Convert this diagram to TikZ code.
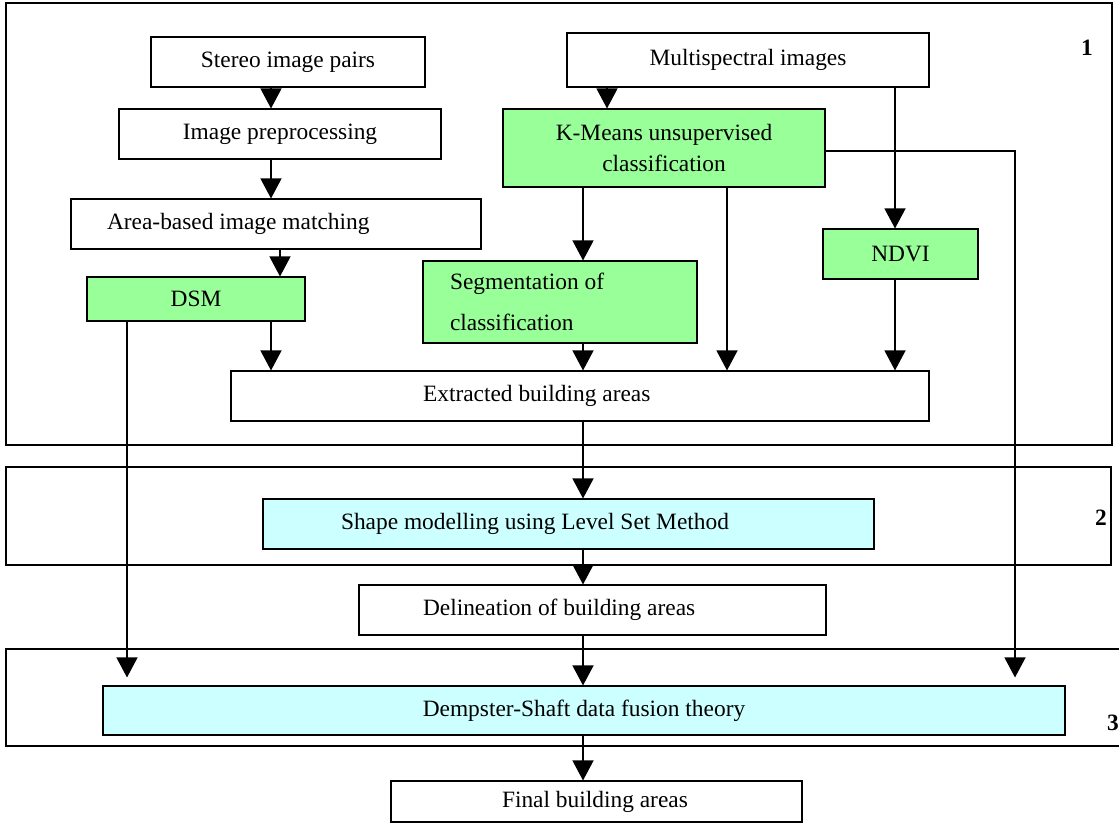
\documentclass[tikz,border=0pt]{standalone}
\usepackage{fontspec}
\setmainfont{Liberation Serif}
\usetikzlibrary{arrows.meta,positioning}
\definecolor{stepgreen}{HTML}{99FF99}
\definecolor{stepcyan}{HTML}{CCFFFF}
\begin{document}
\begin{tikzpicture}[x=1pt,y=-1pt]
\tikzset{box/.style={draw,line width=1.1pt,inner sep=0pt,align=center,font=\fontsize{23.4}{28}\selectfont}}
\tikzset{greenbox/.style={box,fill=stepgreen}}
\tikzset{cyanbox/.style={box,fill=stepcyan}}
\tikzset{leftbox/.style 2 args={box,align=flush left,inner xsep=#1,text width=#2,
  execute at begin node={\spaceskip=0pt\xspaceskip=0pt}}}
\tikzset{stage/.style={draw,line width=1.3pt}}
\tikzset{num/.style={font=\fontsize{23.4}{28}\selectfont\bfseries}}
\tikzset{flow/.style={draw,line width=1.3pt,-{Triangle[width=21pt,length=20pt]}}}
\useasboundingbox (0,0) rectangle (1119,823);
\clip (0,0) rectangle (1119,823);
% the three stages
\draw[stage] (6,3) rectangle (1112,445);
\draw[stage] (6,467) rectangle (1111,565);
\draw[stage] (6,649) rectangle (1135,746);
\node[num] (n1) at (1087,48) {1};
\node[num] (n2) at (1101,518) {2};
\node[num] (n3) at (1113,723) {3};
% stage 1
\node[box,minimum width=274,minimum height=50] (stereo) at (288,62) {Stereo image pairs};
\node[box,minimum width=322,minimum height=50] (prep) at (280,134) {Image preprocessing};
\node[leftbox={36pt}{338pt},minimum height=50] (match) at (276,224) {Area-based image matching};
\node[greenbox,minimum width=218,minimum height=44] (dsm) at (196,299) {DSM};
\node[box,minimum width=362,minimum height=54] (multi) at (748,60) {Multispectral images};
\node[greenbox,minimum width=322,minimum height=78] (kmeans) at (664,148) {K-Means unsupervised\\[3pt]classification};
\node[leftbox={27pt}{220pt},fill=stepgreen,minimum height=82] (seg) at (560,302) {Segmentation of\\[13pt]classification};
\node[greenbox,minimum width=155,minimum height=50] (ndvi) at (900.5,254) {NDVI};
\node[leftbox={192pt}{314pt},minimum height=50] (extract) at (580,396) {Extracted building areas};
% stage 2
\node[leftbox={78pt}{455pt},fill=stepcyan,minimum height=50] (shape) at (568.5,524) {Shape modelling using Level Set Method};
\node[leftbox={64pt}{339pt},minimum height=50] (delin) at (592.5,610) {Delineation of building areas};
% stage 3
\node[cyanbox,minimum width=962,minimum height=49] (fusion) at (584,710.5) {Dempster-Shaft data fusion theory};
\node[leftbox={111pt}{189pt},minimum height=41] (final) at (596.5,801.5) {Final building areas};
% columns of the connectors
\coordinate (xa) at (271,0);
\coordinate (xb) at (280,0);
\coordinate (xc) at (127,0);
\coordinate (xd) at (607,0);
\coordinate (xe) at (583,0);
\coordinate (xf) at (727,0);
\coordinate (xg) at (895,0);
\coordinate (xh) at (1015,0);
\draw[flow] (stereo.south -| xa) -- (prep.north -| xa);
\draw[flow] (prep.south -| xa) -- (match.north -| xa);
\draw[flow] (match.south -| xb) -- (dsm.north -| xb);
\draw[flow] (dsm.south -| xa) -- (extract.north -| xa);
\draw[flow,shorten >=8pt] (dsm.south -| xc) -- (fusion.north -| xc);
\draw[flow] (multi.south -| xd) -- (kmeans.north -| xd);
\draw[flow] (multi.south -| xg) -- (ndvi.north -| xg);
\draw[flow] (kmeans.south -| xe) -- (seg.north -| xe);
\draw[flow] (kmeans.south -| xf) -- (extract.north -| xf);
\draw[flow,shorten >=8pt] ([yshift=-3pt]kmeans.east) -| (fusion.north -| xh);
\draw[flow] (seg.south -| xe) -- (extract.north -| xe);
\draw[flow] (ndvi.south -| xg) -- (extract.north -| xg);
\draw[flow] (extract.south -| xe) -- (shape.north -| xe);
\draw[flow] (shape.south -| xe) -- (delin.north -| xe);
\draw[flow] (delin.south -| xe) -- (fusion.north -| xe);
\draw[flow] (fusion.south -| xe) -- (final.north -| xe);
\end{tikzpicture}
\end{document}
